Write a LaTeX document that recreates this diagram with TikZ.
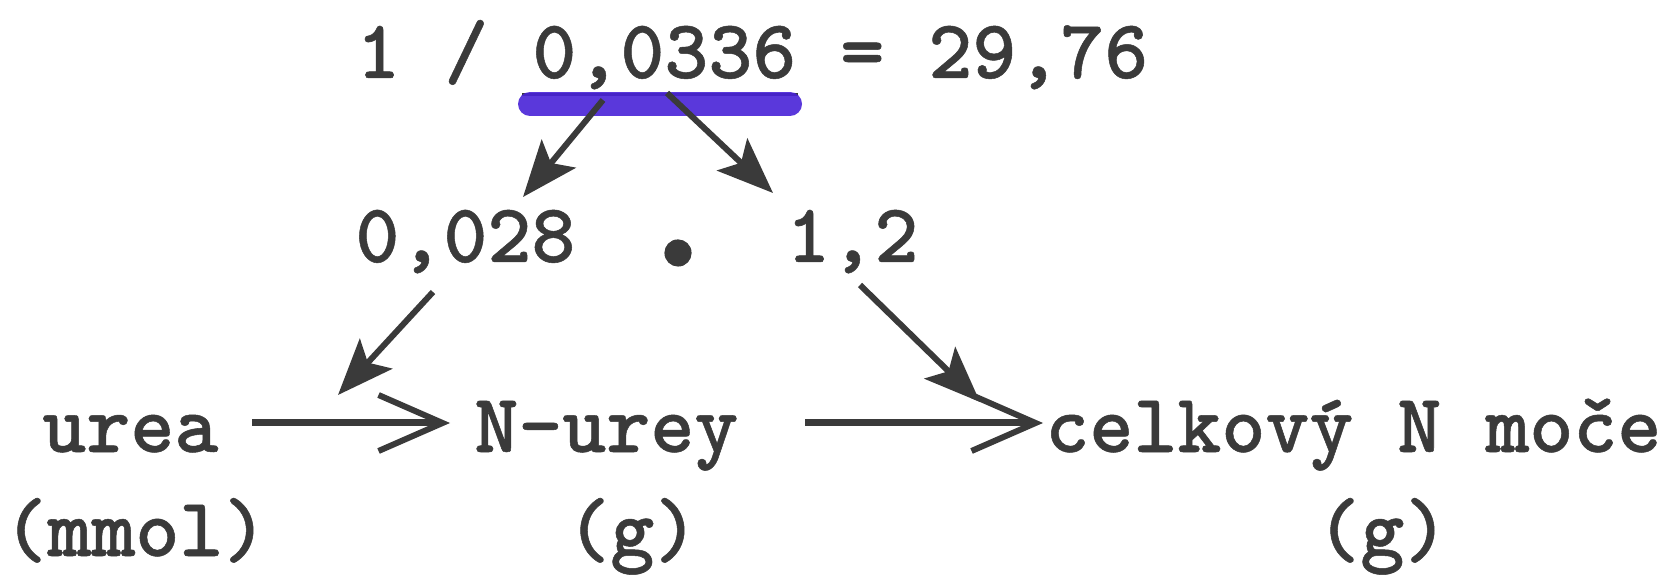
\documentclass[tikz,border=0pt]{standalone}
\usepackage{fontspec}
\usetikzlibrary{arrows.meta}
\newfontfamily\tw{lmmonolt10-bold.otf}[FakeBold=0.6]
\definecolor{ink}{RGB}{58,58,58}
\definecolor{marker}{RGB}{72,34,215}
\tikzset{
  tt/.style={inner sep=0pt, anchor=base west, text=ink, font=\tw\fontsize{41.9}{50}\selectfont},
  harrow/.style={draw=ink, line width=3.5pt, -{Straight Barb[length=32pt,width=28pt,line width=3pt]}},
  darrow/.style={draw=ink, line width=3pt, -{Stealth[length=28pt,width=22pt,inset=6pt]}}
}
\begin{document}
\begin{tikzpicture}[x=0.5pt,y=-0.5pt]
\useasboundingbox (0,0) rectangle (1673,576);
% top row
\node[tt] (top) at (356,78) {1 / 0,0336 = 29,76};
\draw[ink, line width=1.5pt] (522,95) -- (798,95);
\draw[marker, line width=12pt, line cap=round, opacity=0.9] (530,104) -- (790,104);
% middle row
\node[tt] (f1) at (355,262) {0,028};
\node[tt, anchor=base, font=\tw\fontsize{95}{95}\selectfont] (dot) at (678,266) {.};
\node[tt] (f2) at (786,262) {1,2};
% bottom rows
\node[tt] (urea) at (42,452) {urea};
\node[tt] (nurey) at (474,452) {N-urey};
\node[tt] (celk) at (1045,452) {celkový N moče};
\node[tt] (u1) at (3,556) {(mmol)};
\node[tt] (u2) at (566,556) {(g)};
\node[tt] (u3) at (1316,556) {(g)};
% connector end points
\coordinate (a1s) at (603,100);
\coordinate (a1e) at (523,197);
\coordinate (a2s) at (667,93);
\coordinate (a2e) at (773,193);
\coordinate (a3s) at (433,292);
\coordinate (a3e) at (338,395);
\coordinate (a4s) at (860,285);
\coordinate (a4e) at (980,402);
\coordinate (h1s) at (252,423);
\coordinate (h1e) at (450,423);
\coordinate (h2s) at (805,423);
\coordinate (h2e) at (1043,423);
\draw[darrow] (a1s) -- (a1e);
\draw[darrow] (a2s) -- (a2e);
\draw[darrow] (a3s) -- (a3e);
\draw[darrow] (a4s) -- (a4e);
\draw[harrow] (h1s) -- (h1e);
\draw[harrow] (h2s) -- (h2e);
\end{tikzpicture}
\end{document}
